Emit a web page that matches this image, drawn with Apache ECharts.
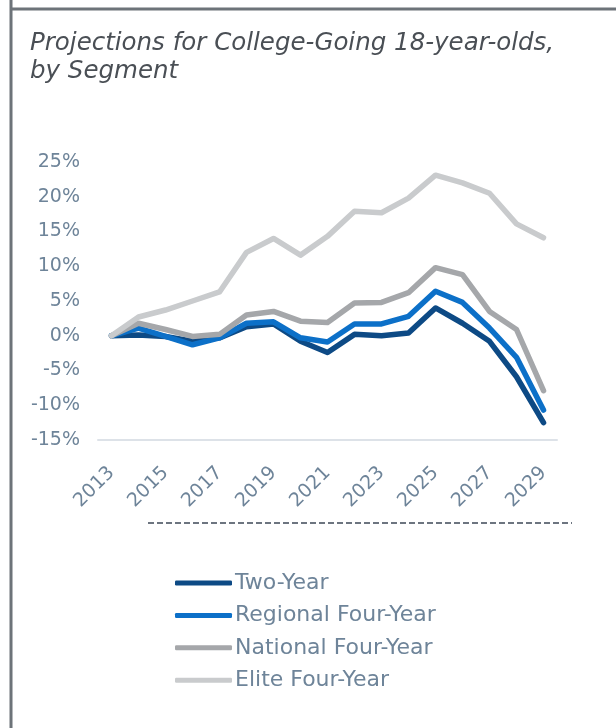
<!DOCTYPE html>
<html>
<head>
<meta charset="utf-8">
<script src="https://cdn.jsdelivr.net/npm/echarts@6/dist/echarts.min.js"></script>
<style>
  html, body { margin: 0; padding: 0; background: #fff; }
  #chart { width: 616px; height: 728px; }
</style>
</head>
<body>
<div id="chart"></div>
<script>
// 年份与各分段数据（百分比）
const years = ['2013', '2014', '2015', '2016', '2017', '2018', '2019', '2020', '2021',
  '2022', '2023', '2024', '2025', '2026', '2027', '2028', '2029'];
const twoYear = [0, 0.1, -0.1, -0.8, -0.3, 1.3, 1.7, -0.8, -2.4, 0.2, 0.0, 0.4, 4.0, 1.8, -0.8, -5.9, -12.5];
const regionalFour = [0, 1.1, -0.1, -1.3, -0.3, 1.8, 2.0, -0.3, -0.9, 1.7, 1.7, 2.8, 6.4, 4.8, 1.1, -3.1, -10.7];
const nationalFour = [0, 1.8, 0.9, -0.1, 0.2, 3.0, 3.5, 2.1, 1.9, 4.7, 4.8, 6.2, 9.8, 8.8, 3.5, 0.9, -7.9];
const eliteFour = [0, 2.7, 3.7, 5.0, 6.3, 12.0, 14.0, 11.6, 14.3, 17.9, 17.7, 19.8, 23.1, 22.0, 20.5, 16.1, 14.1];
const seriesNames = ['Two-Year', 'Regional Four-Year', 'National Four-Year', 'Elite Four-Year'];
const seriesColors = ['#0d4a85', '#0c70c8', '#a5a7aa', '#c9cbcd'];

const labelColor = '#6e8499';
const font = "'DejaVu Sans', Verdana, sans-serif";

const chart = echarts.init(document.getElementById('chart'));
const dataList = [twoYear, regionalFour, nationalFour, eliteFour];

chart.setOption({
  animation: false,
  title: {
    text: 'Projections for College-Going 18-year-olds,\nby Segment',
    left: 25, top: 25,
    textStyle: { fontFamily: font, fontStyle: 'italic', fontWeight: 'normal', fontSize: 24.5, lineHeight: 28, color: '#4a4f55' }
  },
  grid: { left: 98, right: 59, top: 162, bottom: 288 },
  legend: {
    orient: 'vertical', left: 170, top: 567,
    icon: 'roundRect', itemWidth: 57, itemHeight: 5, itemGap: 10.4,
    data: seriesNames,
    textStyle: { fontFamily: font, fontSize: 22, color: labelColor, padding: [0, 0, 0, -2] }
  },
  xAxis: {
    type: 'category', data: years, boundaryGap: true,
    axisLine: { onZero: false, lineStyle: { color: '#dde2e8', width: 2 } },
    axisTick: { show: false },
    axisLabel: { interval: 1, rotate: 45, fontFamily: font, fontSize: 19, color: labelColor, margin: 30 }
  },
  yAxis: {
    type: 'value', min: -15, max: 25, interval: 5,
    splitLine: { show: false },
    axisLine: { show: false }, axisTick: { show: false },
    axisLabel: { formatter: '{value}%', fontFamily: font, fontSize: 19, color: labelColor, margin: 18 }
  },
  series: dataList.map((d, i) => ({
    name: seriesNames[i], type: 'line', data: d,
    symbol: 'none', color: seriesColors[i],
    lineStyle: { width: 5.5, cap: 'round', join: 'round' }
  })),
  graphic: [
    { type: 'line', shape: { x1: 11, y1: 0, x2: 11, y2: 728 }, style: { stroke: '#6d7379', lineWidth: 3 }, silent: true },
    { type: 'line', shape: { x1: 10, y1: 9, x2: 616, y2: 9 }, style: { stroke: '#6d7379', lineWidth: 3 }, silent: true },
    { type: 'line', shape: { x1: 148, y1: 523, x2: 572, y2: 523 }, style: { stroke: '#6d7580', lineWidth: 2, lineDash: [6, 3] }, silent: true }
  ]
});
</script>
</body>
</html>
